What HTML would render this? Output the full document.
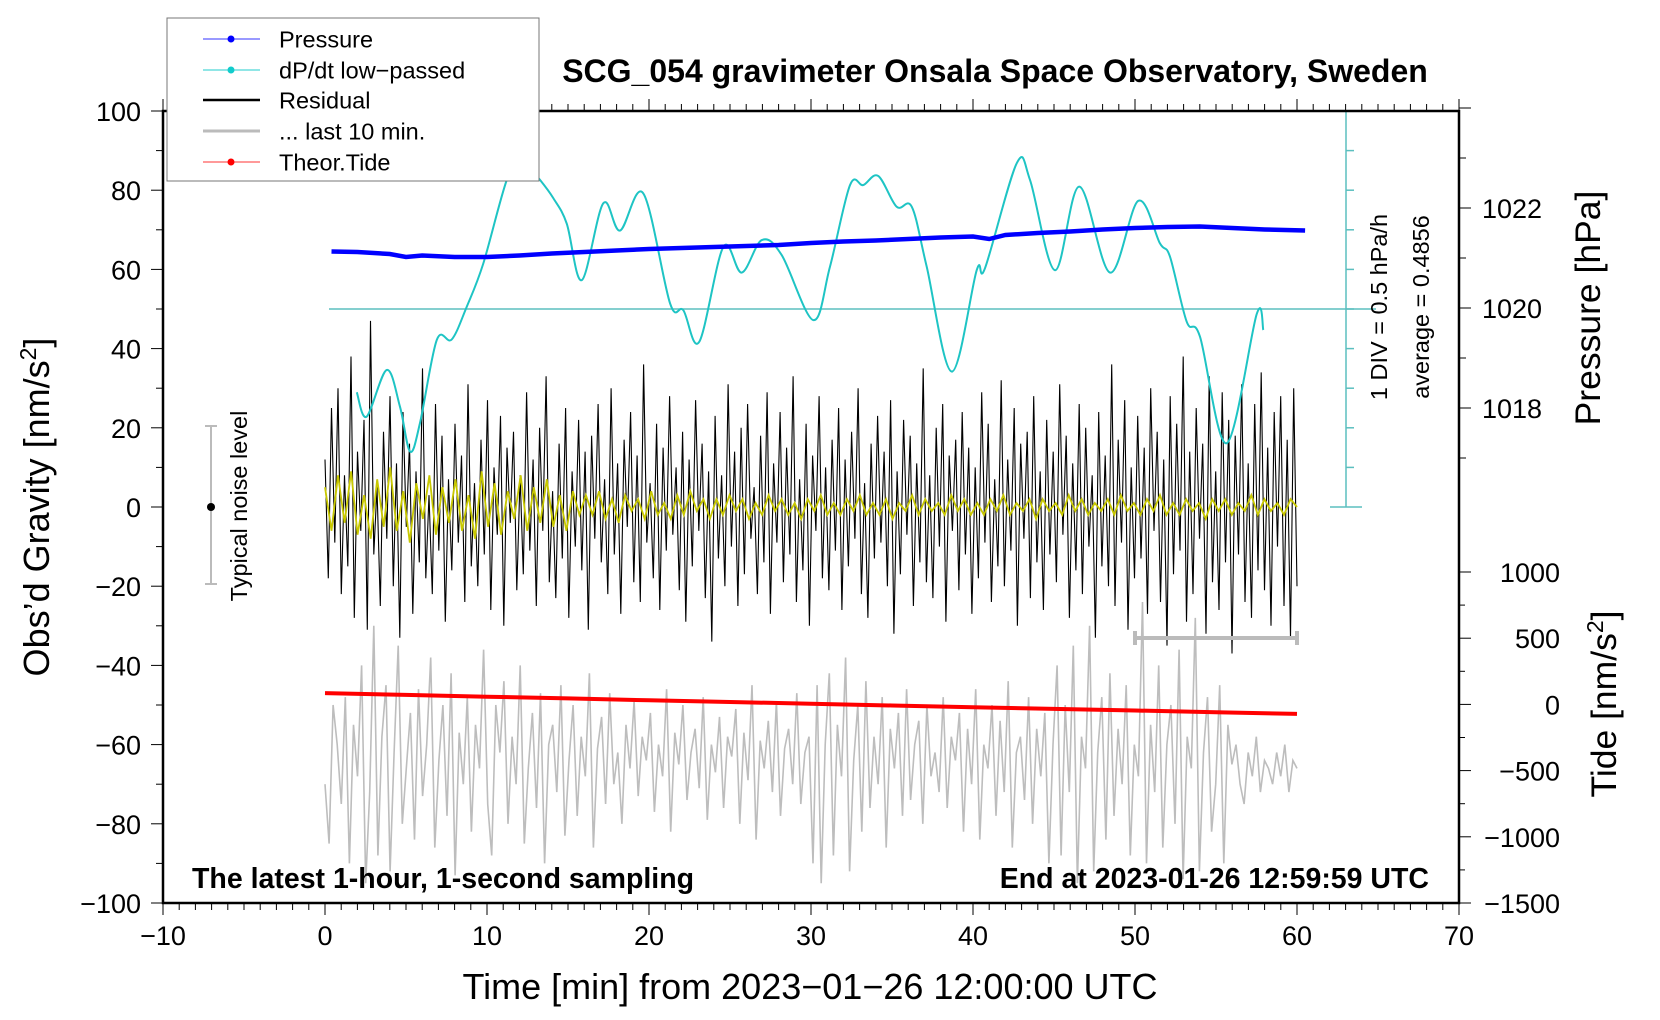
<!DOCTYPE html>
<html><head><meta charset="utf-8"><style>
html,body{margin:0;padding:0;background:#fff;}
svg{display:block;font-family:"Liberation Sans",sans-serif;}
</style></head><body>
<svg id="chart" width="1660" height="1020" viewBox="0 0 1660 1020" xmlns="http://www.w3.org/2000/svg">
<rect x="0" y="0" width="1660" height="1020" fill="#fff"/>
<g id="marks"></g>
<g id="axes"></g>
<text x="995" y="82" text-anchor="middle" font-size="32" font-weight="bold">SCG_054 gravimeter Onsala Space Observatory, Sweden</text>
<text x="192" y="888" font-size="28.5" font-weight="bold">The latest 1-hour, 1-second sampling</text>
<text x="1429" y="888" text-anchor="end" font-size="28.5" font-weight="bold">End at 2023-01-26 12:59:59 UTC</text>
<text x="810" y="999" text-anchor="middle" font-size="36">Time [min] from 2023−01−26 12:00:00 UTC</text>
<text transform="translate(49,507) rotate(-90)" text-anchor="middle" font-size="36">Obs’d Gravity [nm/s<tspan font-size="23" dy="-13">2</tspan><tspan dy="13">]</tspan></text>
<text transform="translate(1600,308) rotate(-90)" text-anchor="middle" font-size="35.5">Pressure [hPa]</text>
<text transform="translate(1616,704) rotate(-90)" text-anchor="middle" font-size="35.5">Tide [nm/s<tspan font-size="23" dy="-13">2</tspan><tspan dy="13">]</tspan></text>
<text transform="translate(1387,307) rotate(-90)" text-anchor="middle" font-size="23.5">1 DIV = 0.5 hPa/h</text>
<text transform="translate(1429,307) rotate(-90)" text-anchor="middle" font-size="23.5">average = 0.4856</text>
<text transform="translate(247,506) rotate(-90)" text-anchor="middle" font-size="23.5">Typical noise level</text>
<g>
<rect x="167" y="18" width="372" height="163" fill="#fff" stroke="#777" stroke-width="1"/>
<line x1="203" y1="39" x2="260" y2="39" stroke="#33f" stroke-width="1"/><circle cx="231" cy="39" r="3.5" fill="#00f"/>
<text x="279" y="47.5" font-size="23.5">Pressure</text>
<line x1="203" y1="70" x2="260" y2="70" stroke="#2cc" stroke-width="1"/><circle cx="231" cy="70" r="3.5" fill="#1cc"/>
<text x="279" y="78.5" font-size="23.5">dP/dt low−passed</text>
<line x1="203" y1="100" x2="260" y2="100" stroke="#000" stroke-width="2.5"/>
<text x="279" y="108.5" font-size="23.5">Residual</text>
<line x1="203" y1="131" x2="260" y2="131" stroke="#bbb" stroke-width="3"/>
<text x="279" y="139.5" font-size="23.5">... last 10 min.</text>
<line x1="203" y1="162" x2="260" y2="162" stroke="#f33" stroke-width="1"/><circle cx="231" cy="162" r="3.5" fill="#f00"/>
<text x="279" y="170.5" font-size="23.5">Theor.Tide</text>
</g>
</svg>
<script>
const residual=[12,-18,25,-9,30,-22,8,-15,38,-28,14,-6,22,-31,47,-12,5,-25,19,-8,
28,-20,11,-33,24,-5,16,-27,9,-14,35,-18,3,-22,26,-11,18,-29,7,-16,
21,-9,13,-24,31,-15,6,-20,17,-12,27,-26,10,-7,23,-30,15,-4,19,-21,
8,-17,29,-11,12,-25,20,-6,33,-19,4,-23,16,-13,25,-28,9,-10,22,-16,
14,-31,18,-8,26,-14,7,-22,30,-12,11,-27,17,-5,24,-19,13,-24,36,-9,
6,-18,21,-26,15,-11,28,-7,10,-21,19,-29,12,-15,27,-6,16,-23,9,-34,
23,-13,8,-20,31,-10,14,-25,20,-17,26,-8,5,-22,18,-14,29,-27,11,-9,
24,-19,15,-12,33,-24,7,-16,21,-30,13,-6,28,-18,10,-21,17,-11,25,-26,
12,-15,19,-8,30,-22,6,-28,16,-13,23,-9,14,-20,27,-32,9,-17,22,-7,
18,-25,11,-14,35,-19,8,-23,20,-10,26,-29,13,-6,17,-21,24,-12,15,-27,
10,-18,29,-9,21,-24,7,-15,32,-20,12,-11,25,-30,16,-8,19,-23,28,-14,
9,-26,22,-12,14,-19,31,-7,18,-28,11,-16,26,-22,20,-10,8,-33,24,-15,
13,-20,36,-25,17,-9,27,-31,10,-18,23,-13,15,-27,30,-6,19,-24,12,-35,
28,-17,21,-11,38,-29,14,-22,25,-8,16,-32,33,-19,9,-26,29,-14,22,-37,
18,-12,31,-24,11,-28,26,-16,34,-21,15,-30,24,-10,28,-25,17,-33,30,-20];
const smoothed=[5,-6,8,-4,9,-7,3,-8,7,-5,10,-6,4,-9,6,-3,8,-7,5,-4,
7,-6,3,-8,9,-5,6,-7,4,-3,8,-6,5,-4,7,-5,3,-6,4,-2,
3,-2,4,-3,2,-4,3,-1,2,-3,4,-2,1,-3,3,-2,4,-1,2,-3,
2,-2,3,-1,2,-3,1,-2,3,-1,2,-2,1,-3,2,-1,3,-2,1,-2,
2,-1,3,-2,1,-2,2,-3,1,-1,3,-2,2,-1,1,-2,3,-1,2,-2,
1,-2,2,-1,3,-2,1,-1,2,-3,2,-1,1,-2,3,-1,2,-2,1,-1,
2,-2,3,-1,1,-2,2,-1,3,-2,1,-2,2,-1,1,-3,2,-1,2,-2,1,-1,3,-2,2,-1,1,-2,2,0];
const last10=[-70,-85,-50,-60,-75,-48,-90,-55,-68,-40,-95,-72,-30,-88,-58,-45,-92,-62,-35,-80,
-66,-52,-84,-46,-73,-60,-38,-86,-64,-50,-78,-42,-93,-57,-70,-48,-82,-55,-66,-36,
-75,-88,-50,-62,-44,-80,-58,-70,-40,-85,-66,-52,-76,-47,-90,-60,-55,-72,-45,-83,
-64,-50,-78,-58,-68,-42,-86,-61,-53,-75,-47,-70,-62,-80,-55,-66,-49,-73,-58,-64,
-52,-77,-60,-68,-46,-82,-57,-65,-50,-74,-62,-56,-71,-48,-79,-60,-67,-53,-76,-58,
-63,-51,-80,-57,-69,-45,-84,-59,-66,-54,-72,-49,-78,-61,-56,-70,-47,-75,-62,-58,
-90,-45,-95,-60,-42,-88,-55,-68,-38,-92,-64,-50,-82,-44,-76,-58,-70,-48,-86,-56,
-66,-52,-78,-46,-74,-60,-54,-80,-50,-68,-62,-72,-48,-76,-58,-64,-52,-82,-56,-70,
-46,-84,-60,-66,-50,-78,-54,-72,-44,-86,-62,-58,-74,-48,-80,-56,-68,-52,-90,-60,
-40,-88,-50,-72,-35,-95,-58,-66,-30,-92,-62,-48,-84,-42,-78,-56,-70,-45,-88,-60,
-68,-24,-90,-55,-72,-40,-86,-60,-50,-80,-36,-94,-58,-66,-28,-92,-62,-48,-82,-70,
-45,-90,-55,-65,-60,-70,-75,-62,-68,-58,-72,-64,-66,-70,-62,-68,-60,-72,-64,-66];
const dpdtT=[1.96,2.57,3.81,4.63,5.25,5.86,6.9,7.82,8.75,9.77,11.22,12.1,13.27,14.09,14.92,15.85,17.18,18.21,19.65,21.3,22.12,23.1,24.59,25.72,26.96,28.19,30.14,31.17,32.41,33.23,34.15,35.29,36.22,37.14,38.69,40.23,40.74,42.7,43.52,45.06,46.56,48.46,50.2,51.54,52.16,53.19,54.01,55.66,57.51,57.92];
const dpdtG=[29,22.8,34.6,25.3,14,21.1,42.2,42.3,50.6,61.5,82.6,88,82.6,78,71.6,57.3,76.7,69.8,79.2,51.4,49.7,41.7,65.7,59.2,67.4,63.6,47.2,60.7,81.3,81.3,83.6,75.8,75.8,60.7,34.2,59.8,60.3,86.8,82.6,59.8,80.9,59.2,77.3,66.6,63.2,46.8,43,16.1,48.7,44.7];
const pressT=[0.4,2,4,5,6,8,10,12,14,16,18,20,22,24,26,28,30,32,34,36,38,40,41,42,44,46,48,50,52,54,56,58,60.5];
const pressP=[1021.13,1021.12,1021.08,1021.02,1021.05,1021.02,1021.02,1021.05,1021.09,1021.12,1021.15,1021.18,1021.2,1021.22,1021.24,1021.26,1021.3,1021.33,1021.35,1021.38,1021.41,1021.43,1021.38,1021.46,1021.5,1021.53,1021.57,1021.6,1021.62,1021.63,1021.6,1021.57,1021.55];
const tideT=[0,5,10,15,20,25,30,35,40,45,50,55,60];
const tideV=[85,72,58,45,31,18,5,-8,-21,-34,-46,-59,-72];
const xTicks=[-10,0,10,20,30,40,50,60,70];
const yTicks=[100,80,60,40,20,0,-20,-40,-60,-80,-100];
const pTicks=[1018,1020,1022];
const tideTicks=[1000,500,0,-500,-1000,-1500];

const L=163,R=1459,T=111,B=903;
const X=t=>L+(t+10)*(R-L)/80;
const Y=g=>B-(g+100)*(B-T)/200;
const PY=p=>308-(p-1020)*50;
const TY=v=>704.4-v*0.1324;
const NS='http://www.w3.org/2000/svg';
const marks=document.getElementById('marks'),axes=document.getElementById('axes');
function mk(tag,attrs,parent){const e=document.createElementNS(NS,tag);for(const k in attrs)e.setAttribute(k,attrs[k]);parent.appendChild(e);return e;}
function pts(ts,vs,fx,fy){return vs.map((v,i)=>fx(ts[i]).toFixed(1)+','+fy(v).toFixed(1)).join(' ');}
function smoothPath(ts,vs,fx,fy){const p=vs.map((v,i)=>[fx(ts[i]),fy(v)]);let d='M'+p[0][0].toFixed(1)+','+p[0][1].toFixed(1);
 for(let i=0;i<p.length-1;i++){const p0=p[Math.max(0,i-1)],p1=p[i],p2=p[i+1],p3=p[Math.min(p.length-1,i+2)];
 const c1=[p1[0]+(p2[0]-p0[0])/6,p1[1]+(p2[1]-p0[1])/6],c2=[p2[0]-(p3[0]-p1[0])/6,p2[1]-(p3[1]-p1[1])/6];
 d+=`C${c1[0].toFixed(1)},${c1[1].toFixed(1)} ${c2[0].toFixed(1)},${c2[1].toFixed(1)} ${p2[0].toFixed(1)},${p2[1].toFixed(1)}`;}return d;}
function idxT(arr){return arr.map((_,i)=>i*60/(arr.length-1));}

let e;
e=mk('polyline',{points:pts(idxT(last10),last10,X,Y),fill:'none',stroke:'#bdbdbd','stroke-width':1.6},marks);


e=mk('polyline',{points:pts(idxT(residual),residual,X,Y),fill:'none',stroke:'#000','stroke-width':1.1},marks);


e=mk('polyline',{points:pts(idxT(smoothed),smoothed,X,Y),fill:'none',stroke:'#c8c800','stroke-width':1.8},marks);


e=mk('polyline',{points:pts(tideT,tideV,X,TY),fill:'none',stroke:'#f00','stroke-width':4},marks);


e=mk('line',{x1:X(0)+4,y1:Y(50),x2:1376,y2:Y(50),stroke:'#5bbfbf','stroke-width':1.5},marks);


e=mk('line',{x1:1346,y1:T,x2:1346,y2:Y(0),stroke:'#5bbfbf','stroke-width':1.5},marks);


for(let i=0;i<=10;i++){const y=T+i*(Y(0)-T)/10;const w=(i==0||i==10)?16:8;
 e=mk('line',{x1:(i==0||i==10)?1330:1346,y1:y,x2:1346+w,y2:y,stroke:'#5bbfbf','stroke-width':1.5},marks);
 
 }
e=mk('path',{d:smoothPath(dpdtT,dpdtG,X,Y),fill:'none',stroke:'#1ec4c4','stroke-width':2,'stroke-linejoin':'round'},marks);


e=mk('polyline',{points:pts(pressT,pressP,X,PY),fill:'none',stroke:'#0000ff','stroke-width':4.5},marks);


e=mk('path',{d:'M205,426H217M211,426V584M205,584H217',stroke:'#bbb','stroke-width':2,fill:'none'},marks);


e=mk('circle',{cx:211,cy:Y(0),r:4,fill:'#000'},marks);


e=mk('path',{d:`M${X(50)},631V645M${X(50)},638H${X(60)}M${X(60)},631V645`,stroke:'#bbb','stroke-width':4,fill:'none'},marks);



e=mk('rect',{x:L,y:T,width:R-L,height:B-T,fill:'none',stroke:'#000','stroke-width':2.5},axes);


for(let t=-10;t<=70;t++){const x=X(t),maj=t%10==0;
 mk('line',{x1:x,y1:B,x2:x,y2:B+(maj?12:7),stroke:'#000','stroke-width':1},axes);
 mk('line',{x1:x,y1:T,x2:x,y2:T-(maj?12:7),stroke:'#000','stroke-width':1},axes);}
xTicks.forEach(t=>{e=mk('text',{x:X(t),y:945,'text-anchor':'middle','font-size':27},axes);e.textContent=String(t).replace('-','−');
 
 });
for(let g=-100;g<=100;g+=10){mk('line',{x1:L,y1:Y(g),x2:L-(g%20==0?12:7),y2:Y(g),stroke:'#000','stroke-width':1},axes);}
yTicks.forEach(g=>{e=mk('text',{x:141,y:Y(g)+10,'text-anchor':'end','font-size':27},axes);e.textContent=String(g).replace('-','−');
 
 });
for(let p=1017;p<=1024;p++){mk('line',{x1:R,y1:PY(p),x2:R+(p%2==0?12:7),y2:PY(p),stroke:'#000','stroke-width':1},axes);}
pTicks.forEach(p=>{e=mk('text',{x:1482,y:PY(p)+10,'font-size':27},axes);e.textContent=p;
 
 });
for(let v=-1500;v<=1000;v+=250){mk('line',{x1:R,y1:TY(v),x2:R+(v%500==0?12:6),y2:TY(v),stroke:'#000','stroke-width':1},axes);}
tideTicks.forEach(v=>{e=mk('text',{x:1560,y:TY(v)+10,'text-anchor':'end','font-size':27},axes);e.textContent=String(v).replace('-','−');
 
 });
</script>
</body></html>
